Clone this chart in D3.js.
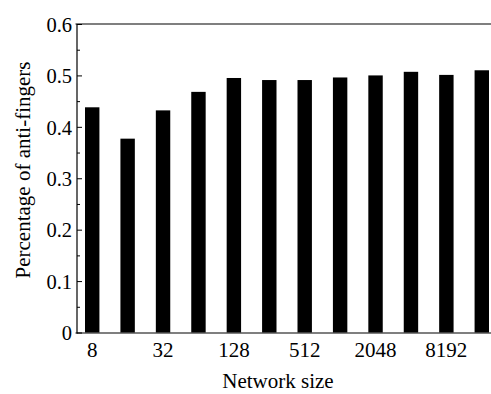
<!DOCTYPE html>
<html>
<head>
<meta charset="utf-8">
<script src="https://cdn.jsdelivr.net/npm/d3@7"></script>
<style>
  html, body { margin: 0; padding: 0; background: #fff; }
  svg { display: block; }
  text { font-family: "Liberation Serif", "Times New Roman", serif; fill: #000; }
</style>
</head>
<body>
<svg id="chart" width="491" height="394"></svg>
<script>
const categories = ["8", "16", "32", "64", "128", "256", "512", "1024", "2048", "4096", "8192", "16384"];
const values = [0.438, 0.377, 0.432, 0.468, 0.495, 0.491, 0.491, 0.496, 0.500, 0.507, 0.501, 0.510];
const xTickLabels = ["8", "32", "128", "512", "2048", "8192"];
const yTicks = [0, 0.1, 0.2, 0.3, 0.4, 0.5, 0.6];
const yMinorTicks = [0.05, 0.15, 0.25, 0.35, 0.45, 0.55];
const xTitle = "Network size";
const yTitle = "Percentage of anti-fingers";

(function () {
const svg = d3.select("#chart");
const mLeft = 77, mRight = 497, mTop = 24, mBottom = 332.5;

const x = d3.scaleBand().domain(categories).range([mLeft, mRight])
  .paddingInner(0.593).paddingOuter(0.226);
const y = d3.scaleLinear().domain([0, 0.6]).range([mBottom, mTop]);

// bars
svg.append("g").selectAll("rect").data(values).join("rect")
  .attr("x", (d, i) => x(categories[i]))
  .attr("width", x.bandwidth())
  .attr("y", d => y(d))
  .attr("height", d => y(0) - y(d))
  .attr("fill", "#000");

// frame lines
svg.append("line").attr("x1", mLeft - 1.5).attr("x2", mRight).attr("y1", y(0.6)).attr("y2", y(0.6))
  .attr("stroke", "#000").attr("stroke-width", 1.2);
svg.append("line").attr("x1", mLeft - 1.5).attr("x2", mRight).attr("y1", y(0) + 0.5).attr("y2", y(0) + 0.5)
  .attr("stroke", "#000").attr("stroke-width", 1.2);

// y axis
const yAxis = d3.axisRight(y).tickValues(yTicks).tickSize(5).tickFormat(d => d === 0 ? "0" : d3.format(".1f")(d));
const yg = svg.append("g").attr("transform", `translate(${mLeft},0)`).call(yAxis);
yg.select(".domain").remove();
yg.selectAll(".tick line").attr("stroke", "#000").attr("stroke-width", 1);
yg.selectAll(".tick text").attr("x", -5).attr("text-anchor", "end")
  .attr("font-size", 20.5).attr("dy", "0.35em")
  .style("font-family", '"Liberation Serif", serif');
svg.append("line").attr("x1", mLeft).attr("x2", mLeft).attr("y1", y(0.6)).attr("y2", y(0) + 1)
  .attr("stroke", "#000").attr("stroke-width", 1.2);

const ym = d3.axisRight(y).tickValues(yMinorTicks).tickSize(3).tickFormat("");
const ymg = svg.append("g").attr("transform", `translate(${mLeft},0)`).call(ym);
ymg.select(".domain").remove();
ymg.selectAll(".tick line").attr("stroke", "#000");

// x axis labels
const xAxis = d3.axisBottom(x).tickValues(xTickLabels).tickSize(0);
const xg = svg.append("g").attr("transform", `translate(0,${mBottom})`).call(xAxis);
xg.select(".domain").remove();
xg.selectAll(".tick text").attr("y", 0).attr("dy", "24.5")
  .attr("font-size", 21).style("font-family", '"Liberation Serif", serif');

// titles
svg.append("text").attr("x", 278).attr("y", 388).attr("text-anchor", "middle")
  .attr("font-size", 21).text(xTitle);
svg.append("text").attr("transform", "translate(30,170) rotate(-90)")
  .attr("text-anchor", "middle").attr("font-size", 21).text(yTitle);
})();
</script>
</body>
</html>
